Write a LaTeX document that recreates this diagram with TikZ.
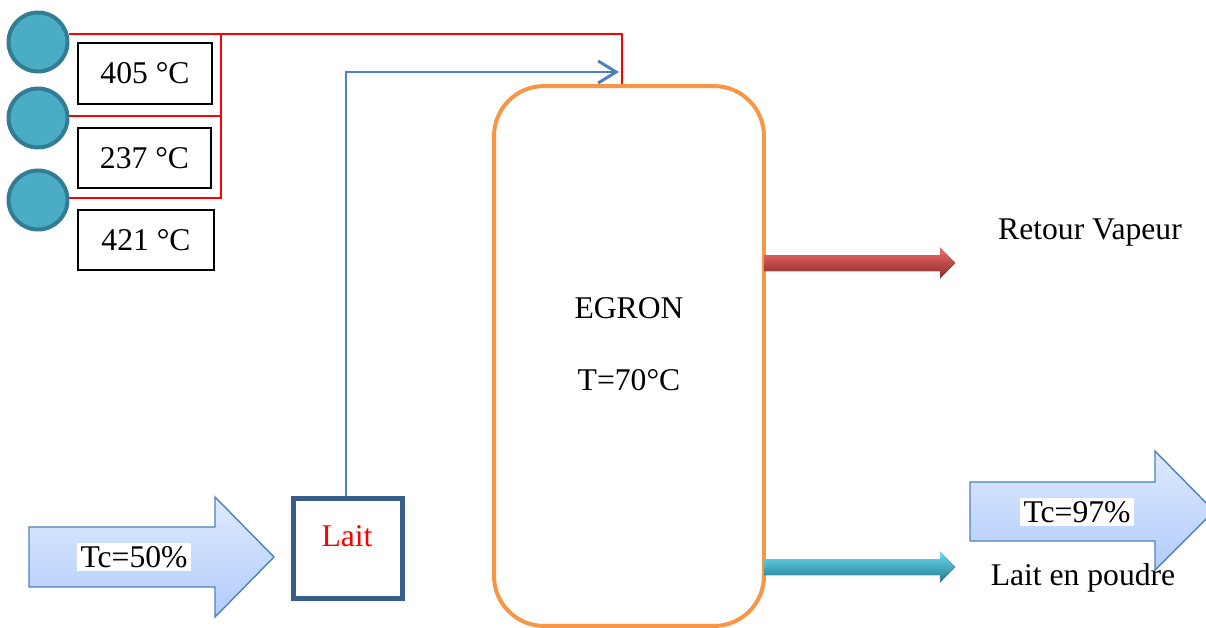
\documentclass[tikz,border=0pt]{standalone}
\usepackage{fontspec}
\setmainfont{Liberation Serif}
\usetikzlibrary{calc,arrows.meta}
\definecolor{tankorange}{RGB}{247,150,70}
\definecolor{burnerfill}{RGB}{75,172,198}
\definecolor{burnerline}{RGB}{49,125,148}
\definecolor{pipeblue}{RGB}{79,129,189}
\definecolor{laitblue}{RGB}{56,93,138}
\definecolor{arrowtop}{RGB}{222,234,253}
\definecolor{arrowbot}{RGB}{178,204,250}
\definecolor{vaptop}{RGB}{238,110,110}
\definecolor{vapbot}{RGB}{140,40,40}
\definecolor{powtop}{RGB}{110,222,245}
\definecolor{powbot}{RGB}{35,120,140}

\begin{document}
\begin{tikzpicture}[x=0.02cm,y=-0.02cm,
  every node/.style={font=\fontsize{18}{22}\selectfont},
  burner/.style={circle,draw=burnerline,fill=burnerfill,line width=0.08cm,minimum size=1.18cm,inner sep=0pt},
  tempbox/.style={draw,thick,inner sep=0pt},
  redpipe/.style={red,line width=0.04cm},
  bluepipe/.style={pipeblue,line width=0.04cm},
  fatarrow/.style={draw=pipeblue,thick,top color=arrowtop,bottom color=arrowbot},
  thinarrow/.style={line width=0.02cm}]
\useasboundingbox (0,0) rectangle (1206,628);
\clip (0,0) rectangle (1206,628);

% burners and temperatures
\node[burner] (b1) at (38,42) {};
\node[burner] (b2) at (38,118) {};
\node[burner] (b3) at (38,200) {};
\node[tempbox,minimum width=2.68cm,minimum height=1.22cm] (t1) at (145,73.5) {405 °C};
\node[tempbox,minimum width=2.66cm,minimum height=1.2cm] (t2) at (144.5,158) {237 °C};
\node[tempbox,minimum width=2.72cm,minimum height=1.2cm] (t3) at (146,240) {421 °C};

% evaporator
\node[draw=tankorange,line width=0.08cm,rounded corners=1cm,minimum width=5.4cm,minimum height=10.8cm] (egron) at (629,356) {};
\node (nom) at (629,308) {EGRON};
\node (temp) at (629,380) {T=70°C};

% milk tank
\node[draw=laitblue,line width=0.1cm,minimum width=2.2cm,minimum height=2.02cm] (lait) at (348,548.5) {};
\node[red] (laitlbl) at (347,536) {Lait};

% red pipe
\coordinate (j1) at (221,34);
\coordinate (j2) at (622,34);
\draw[redpipe] (b1.east |- j1) -- (j1) -- (j2) -- (j2 |- egron.north);
\draw[redpipe] (j1) -- (221,198) -- (b3.east |- 0,198);
\draw[redpipe] (b2.east |- 0,116) -- (221,116);

% blue pipe
\coordinate (k1) at (346,72);
\draw[bluepipe,->,>={Straight Barb[length=0.36cm,width=0.44cm,line width=0.06cm]}] (lait.north -| k1) -- (k1) -- (619,72);

% vapour and powder outlets
\coordinate (v0) at (764,263);
\coordinate (p0) at (764,567);
\fill[thinarrow,top color=vaptop,bottom color=vapbot]
  (v0) ++(0,-8) -- ++(176,0) -- ++(0,-7.5) -- ++(15,15.5) -- ++(-15,15.5) -- ++(0,-7.5) -- ++(-176,0) -- cycle;
\fill[thinarrow,top color=powtop,bottom color=powbot]
  (p0) ++(0,-8) -- ++(176,0) -- ++(0,-7.5) -- ++(15,15.5) -- ++(-15,15.5) -- ++(0,-7.5) -- ++(-176,0) -- cycle;
\node (vap) at (1090,233) {Retour Vapeur};
\node (poudre) at (1083,578) {Lait en poudre};

% feed and product arrows
\draw[fatarrow] (29,527) -- (215,527) -- (215,497) -- (274,557) -- (215,617) -- (215,587) -- (29,587) -- cycle;
\node[fill=white,inner sep=2pt] (tc50) at (134,557) {Tc=50\%};
\draw[fatarrow] (970,482) -- (1155,482) -- (1155,451) -- (1214,511) -- (1155,570) -- (1155,541) -- (970,541) -- cycle;
\node[fill=white,inner sep=2pt] (tc97) at (1077,512) {Tc=97\%};
\end{tikzpicture}
\end{document}
